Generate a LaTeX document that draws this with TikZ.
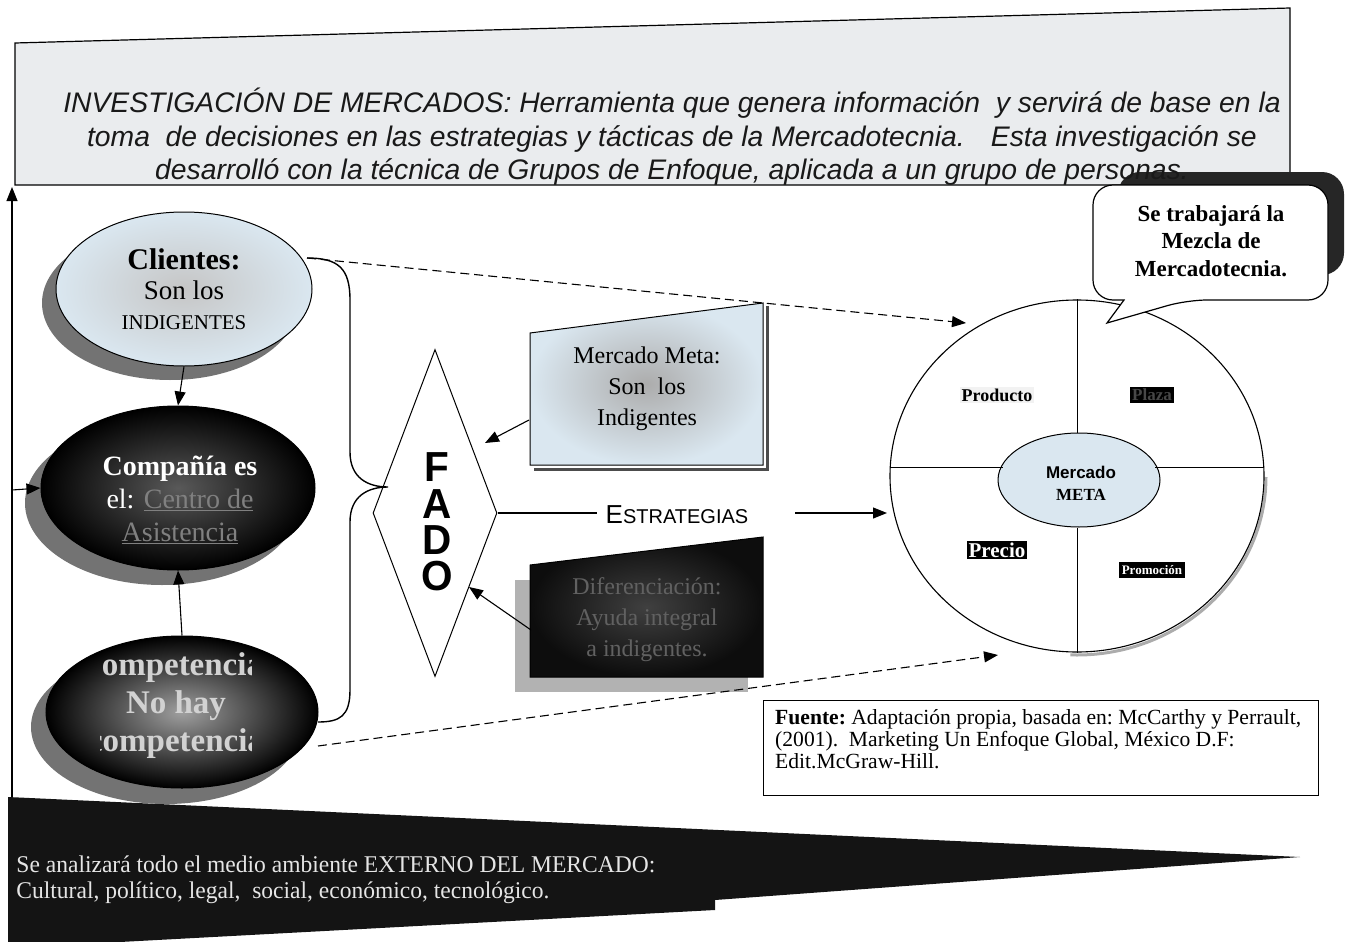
\documentclass[tikz,border=0pt]{standalone}
\usepackage{fontspec}
\setmainfont{Liberation Serif}
\setsansfont{Liberation Sans}
\usetikzlibrary{arrows.meta,shapes.geometric,calc}
\newcommand\myfs[2]{\fontsize{#1}{#2}\selectfont}
\definecolor{lightblue}{RGB}{218,231,240}
\definecolor{bannergray}{RGB}{234,236,238}
\begin{document}
\begin{tikzpicture}[x=1pt,y=-1pt,
  tip/.style={-{Triangle[length=14pt,width=11pt]}},
  conn/.style={draw, line width=1.1pt, tip},
  dashconn/.style={draw, line width=1.1pt, dash pattern=on 9pt off 5pt, tip},
  oval/.style={ellipse, inner sep=0pt},
  shadowfill/.style={fill=black!55},
  quadlbl/.style={font=\bfseries\myfs{18}{20}, inner sep=2pt},
  fadoletter/.style={font=\sffamily\bfseries\myfs{30}{30}, inner sep=0pt, xscale=1.35, yscale=1.4, transform shape}
]
\useasboundingbox (0,0) rectangle (1345,942);

% ---------- top banner ----------
\draw[fill=bannergray, line width=1.2pt] (15,43) -- (1290,8) -- (1290,185) -- (15,185) -- cycle;
% bubble shadow (partly over the banner)
\fill[black!85, rounded corners=22pt] (1118,172) rectangle (1344,275);
\node[font=\sffamily\itshape\myfs{28.3}{33.5}, text=black!90, align=center] (banner) at (672,137)
 {INVESTIGACIÓN DE MERCADOS: Herramienta que genera información \ y servirá de base en la\\
  toma \ de decisiones en las estrategias y tácticas de la Mercadotecnia. \ \ Esta investigación se\\
  desarrolló con la técnica de Grupos de Enfoque, aplicada a un grupo de personas.};

% ---------- bottom pennant ----------
\fill[black!92] (8,797) -- (1300,857) -- (715,900) -- (715,910) -- (120,942) -- (8,942) -- cycle;
\node[anchor=west, text=white!80!gray, font=\myfs{24}{26}, align=left, xscale=0.98, transform shape] (medio) at (13,880)
 {Se analizará todo el medio ambiente EXTERNO DEL MERCADO:\\
  Cultural, político, legal, \ social, económico, tecnológico.};

% ---------- left ellipses ----------
\fill[shadowfill] (170,303) ellipse [x radius=128, y radius=77];
\node[oval, draw, line width=1pt, minimum width=256pt, minimum height=154pt,
      inner color=gray!45, outer color=lightblue] (clientes) at (184,289) {};
\node[align=center, font=\myfs{27}{30}] (clitext) at (184,289)
 {{\bfseries\myfs{30}{30}Clientes:}\\Son los\\{\myfs{21}{28}INDIGENTES}};

\fill[shadowfill] (162,503) ellipse [x radius=137, y radius=82];
\node[oval, draw, line width=1pt, minimum width=274pt, minimum height=164pt,
      inner color=black!65, outer color=black] (compania) at (178,488) {};
\node[align=center, font=\myfs{28}{33}, text=white] (comtext) at (180,500)
 {{\bfseries Compañía es}\\el: {\color{gray}\underline{Centro de}}\\{\color{gray}\underline{Asistencia}}};

\fill[shadowfill] (166,727) ellipse [x radius=135, y radius=77];
\node[oval, draw, line width=1pt, minimum width=272pt, minimum height=152pt,
      inner color=gray!75, outer color=black] (compet) at (182,712) {};
\begin{scope}
  \clip (100,640) rectangle (251,775);
  \node[align=center, font=\bfseries\myfs{33}{38}, text=gray!35] (comptext) at (176,706)
   {Competencia:\\No hay\\competencia};
\end{scope}

\draw[conn] (clientes.south) -- (compania.north);
\draw[conn] (compet.north) -- (compania.south);

% left feedback arrows
\coordinate (lbot) at (12,797);
\coordinate (ltop) at (12,187);
\coordinate (lmid) at (12,490);
\draw[conn] (lbot) -- (ltop);
\draw[conn] (lmid) -- (compania.west);

% ---------- brace ----------
\coordinate (c1) at (307,258);
\coordinate (c3) at (318,722);
\coordinate (c4) at (318,746);
\coordinate (btip) at (388,487);
\draw[line width=1.4pt] (c1) .. controls (338,258) and (350,268) .. (350,300) -- (350,452)
  .. controls (350,478) and (368,487) .. (btip)
  .. controls (368,487) and (350,496) .. (350,522) -- (350,690)
  .. controls (350,716) and (340,722) .. (c3);

% ---------- FADO diamond ----------
\node[diamond, draw, line width=1pt, minimum width=124pt, minimum height=327pt, inner sep=0pt] (fado) at (435,513) {};
\node[fadoletter] (fF) at (437,467) {F};
\node[fadoletter] (fA) at (437,504) {A};
\node[fadoletter] (fD) at (437,540) {D};
\node[fadoletter] (fO) at (437,576) {O};

% ---------- Mercado Meta box ----------
\draw[line width=3pt, black!70] (767,306) -- (767,469) -- (534,469);
\shade[inner color=gray!65, outer color=lightblue] (530,333) -- (763,303) -- (763,465) -- (530,465) -- cycle;
\draw[line width=1pt] (530,333) -- (763,303) -- (763,465) -- (530,465) -- cycle;
\node[align=center, font=\myfs{24}{31}] (meta) at (647,389) {Mercado Meta:\\Son \ los\\Indigentes};

% ---------- Diferenciacion box ----------
\fill[gray!60] (515,580) rectangle (748,692);
\shade[inner color=black!75, outer color=black!95] (530,565) -- (763,537) -- (763,677) -- (530,677) -- cycle;
\draw[line width=1pt] (530,565) -- (763,537) -- (763,677) -- (530,677) -- cycle;
\node[align=center, font=\myfs{24}{31}, text=black!62] (dif) at (647,620) {Diferenciación:\\Ayuda integral\\a indigentes.};

\coordinate (mmA) at (529,420);
\coordinate (fdA) at (485,443);
\coordinate (difA) at (531,630);
\coordinate (fdB) at (469,587);
\draw[conn] (mmA) -- (fdA);
\draw[conn] (difA) -- (fdB);

% ---------- ESTRATEGIAS ----------
\node[font=\sffamily\myfs{20}{22}, inner sep=0pt] (est) at (677,515) {{\myfs{26}{22}E}STRATEGIAS};
\coordinate (e1) at (597,513);
\coordinate (e2) at (795,513);
\coordinate (e3) at (887,513);
\draw[line width=1.2pt] (fado.east) -- (e1);
\draw[conn] (e2) -- (e3);

% ---------- marketing mix circle ----------
\draw[line width=3pt, gray!65] ($(1077,477)+(189,0)$) arc[start angle=0, end angle=92, x radius=189, y radius=178];
\node[oval, draw, line width=1.1pt, fill=white, minimum width=374pt, minimum height=352pt] (mix) at (1077,476) {};
\node[oval, draw, line width=1pt, fill=lightblue, minimum width=162pt, minimum height=94pt] (mmeta) at (1079,480) {};
\node[font=\sffamily\bfseries\myfs{17}{20}, inner sep=0pt] (mmt1) at (1081,472) {Mercado};
\node[font=\bfseries\myfs{17}{20}, inner sep=0pt] (mmt2) at (1081,495) {META};
\draw[line width=1pt] (mix.north) -- (mmeta.north -| mix.north);
\draw[line width=1pt] (mmeta.south -| mix.south) -- (mix.south);
\draw[line width=1pt] (890,467) -- (1003,467);
\draw[line width=1pt] (1155,467) -- (1264,467);

\node[quadlbl, fill=gray!10] (prod) at (997,395) {Producto};
\node[quadlbl, fill=black, text=black!72!white, font=\bfseries\myfs{17}{18}] (plaza) at (1152,395) {Plaza};
\node[quadlbl, fill=black, text=white, font=\bfseries\myfs{21}{22}] (precio) at (997,550) {Precio};
\node[quadlbl, fill=black, text=white, font=\bfseries\myfs{13}{14}, inner sep=3pt] (promo) at (1152,570) {Promoción};

% dashed connectors
\coordinate (d1) at (966,323);
\coordinate (d2) at (998,655);
\draw[dashconn] (c1) -- (d1);
\draw[dashconn] (c4) -- (d2);

% ---------- speech bubble ----------
\draw[fill=white, line width=1.2pt] (1160,185) [rounded corners=20pt] -- (1328,185) -- (1328,300) -- (1187,300)
  [sharp corners] -- (1107,323) -- (1124,300) [rounded corners=20pt] -- (1093,300) -- (1093,185) -- (1160,185);
\node[align=center, font=\bfseries\myfs{23}{27.5}] (bubble) at (1211,241) {Se trabajará la\\Mezcla de\\Mercadotecnia.};

% ---------- source box ----------
\node[draw, line width=1pt, anchor=north west, minimum width=555pt, minimum height=95pt] (fuente) at (763,700) {};
\node[anchor=north west, align=left, inner sep=0pt, font=\frenchspacing\myfs{21.6}{22}] (fuentetext) at ($(fuente.north west)+(12,9)$)
 {\textbf{Fuente:} Adaptación propia, basada en: McCarthy y Perrault,\\
  (2001). \ Marketing Un Enfoque Global, México D.F:\\
  Edit.McGraw-Hill.};
\end{tikzpicture}
\end{document}
